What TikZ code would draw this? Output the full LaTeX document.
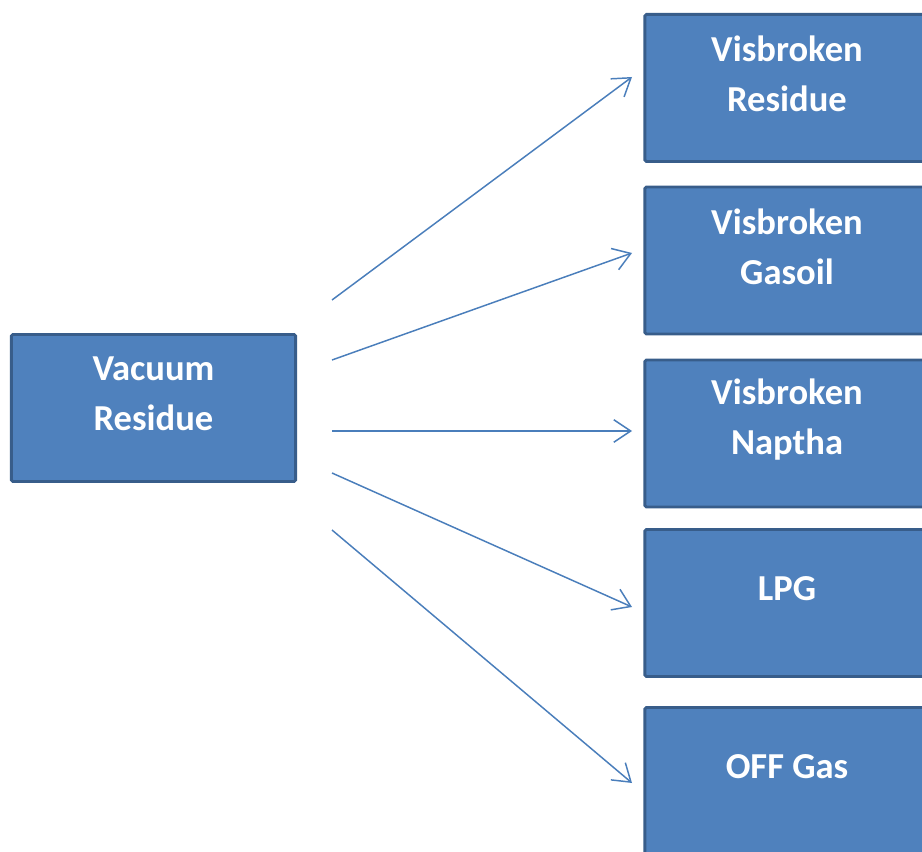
\documentclass[tikz,border=0pt]{standalone}
\usepackage{fontspec}
\setmainfont{Carlito}
\usetikzlibrary{arrows.meta}

\definecolor{boxfill}{HTML}{4F81BD}
\definecolor{boxline}{HTML}{385D8A}
\definecolor{arrowblue}{HTML}{4A7EBB}

\tikzset{
    unitbox/.style={draw=boxline, fill=boxfill, line width=2.1pt, rounded corners=1pt,
        minimum width=7.1cm, minimum height=3.675cm, inner sep=0pt},
    boxtext/.style={text=white, align=center, yshift=0.35cm,
        font=\bfseries\fontsize{26}{35.5}\selectfont},
    flow/.style={draw=arrowblue, line width=1.05pt,
        -{Straight Barb[length=12pt, width=16pt, line width=1.05pt]}}
}

\begin{document}
\begin{tikzpicture}[x=0.025cm, y=-0.025cm]
    \useasboundingbox (0,0) rectangle (922,852);

    % Feed and products
    \node[unitbox, label={[boxtext]center:{Vacuum\\Residue}}] (vr) at (153.5,408) {};
    \node[unitbox, label={[boxtext]center:{Visbroken\\Residue}}] (vbr) at (787,88) {};
    \node[unitbox, label={[boxtext]center:{Visbroken\\Gasoil}}] (vbg) at (787,260.5) {};
    \node[unitbox, label={[boxtext]center:{Visbroken\\Naptha}}] (vbn) at (787,433.5) {};
    \node[unitbox, label={[boxtext]center:{LPG}}] (lpg) at (787,603) {};
    \node[unitbox, label={[boxtext]center:{OFF Gas}}] (offgas) at (787,781) {};

    % Arrow end points
    \coordinate (s1) at (332,300);
    \coordinate (s2) at (332,360);
    \coordinate (s3) at (332,431);
    \coordinate (s4) at (332,473);
    \coordinate (s5) at (332,530);
    \coordinate (t1) at (632,77);
    \coordinate (t2) at (632,253);
    \coordinate (t3) at (632,431);
    \coordinate (t4) at (632,607);
    \coordinate (t5) at (632,783);

    % Draw the arrows
    \draw[flow] (s1) -- (t1);
    \draw[flow] (s2) -- (t2);
    \draw[flow] (s3) -- (t3);
    \draw[flow] (s4) -- (t4);
    \draw[flow] (s5) -- (t5);
\end{tikzpicture}
\end{document}
